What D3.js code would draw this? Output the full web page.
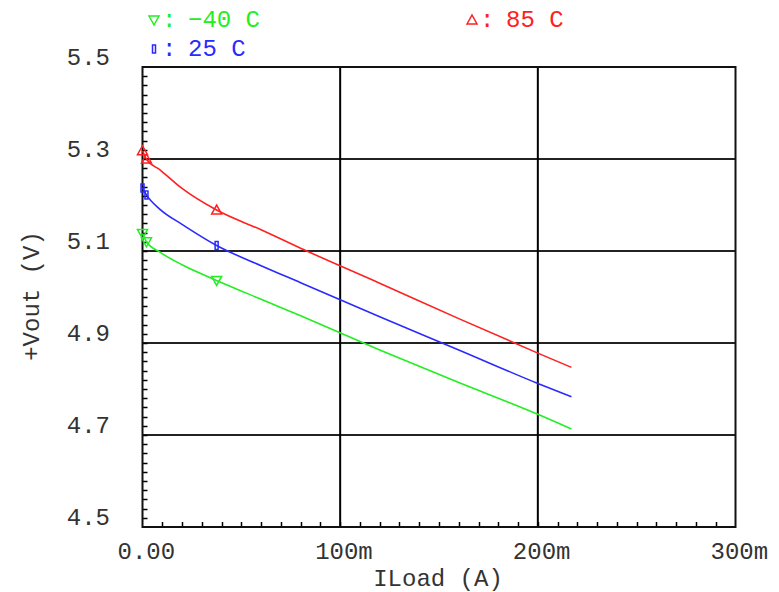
<!DOCTYPE html>
<html lang="en">
<head>
    <meta charset="UTF-8">
    <title>+Vout vs ILoad</title>
    <script src="https://d3js.org/d3.v7.min.js"></script>
    <style>
        body { margin: 0; background: #fff; }
        svg { display: block; }
        text { font-family: "Liberation Mono", "DejaVu Sans Mono", monospace; font-variant-numeric: slashed-zero; }
    </style>
</head>
<body>
    <div id="chart"></div>
    <script>
        // Load current in mA (sweep points)
        var iLoad = [0, 2, 9, 20, 37.5, 60, 80, 120, 160, 200, 217];
        // +Vout in volts for each temperature
        var vHot  = [5.318, 5.300, 5.276, 5.236, 5.189, 5.146, 5.106, 5.030, 4.953, 4.878, 4.847];
        var vRoom = [5.237, 5.222, 5.190, 5.158, 5.112, 5.068, 5.031, 4.957, 4.885, 4.812, 4.783];
        var vCold = [5.138, 5.120, 5.097, 5.070, 5.036, 4.995, 4.959, 4.885, 4.814, 4.745, 4.713];
        var markerIdx = [0, 1, 4];

        var yTicks = [4.5, 4.7, 4.9, 5.1, 5.3, 5.5];
        var yGrid = [4.7, 4.9, 5.1, 5.3];
        var xTicks = [0, 100, 200, 300];
        var xTickLabels = ["0.00", "100m", "200m", "300m"];
        var xGrid = [100, 200];

        var W = 779, H = 592;
        // plot box (pixels)
        var pL = 142.5, pR = 735.5, pT = 67, pB = 527;
        var fs = 24;

        var x = d3.scaleLinear().domain([0, 300]).range([pL, pR]);
        var y = d3.scaleLinear().domain([4.5, 5.5]).range([pB, pT]);

        var svg = d3.select("#chart").append("svg").attr("width", W).attr("height", H);

        // grid
        svg.selectAll(".hgrid").data(yGrid).enter().append("line")
            .attr("x1", pL).attr("x2", pR)
            .attr("y1", d => y(d)).attr("y2", d => y(d))
            .attr("stroke", "#222").attr("stroke-width", 2);
        svg.selectAll(".vgrid").data(xGrid).enter().append("line")
            .attr("x1", d => x(d)).attr("x2", d => x(d))
            .attr("y1", pT).attr("y2", pB)
            .attr("stroke", "#000").attr("stroke-width", 2);

        // minor ticks, pointing inward
        var yMinor = d3.range(4.52, 5.49, 0.02);
        svg.selectAll(".ytk").data(yMinor).enter().append("line")
            .attr("x1", pL).attr("x2", pL + 5)
            .attr("y1", d => Math.round(y(d)) + 0.5).attr("y2", d => Math.round(y(d)) + 0.5)
            .attr("stroke", "#000").attr("stroke-width", 1.5);
        var xMinor = d3.range(10, 300, 10);
        svg.selectAll(".xtk").data(xMinor).enter().append("line")
            .attr("x1", d => Math.round(x(d)) + 0.5).attr("x2", d => Math.round(x(d)) + 0.5)
            .attr("y1", pB).attr("y2", pB - 5)
            .attr("stroke", "#000").attr("stroke-width", 1.5);

        // frame
        svg.append("rect")
            .attr("x", pL).attr("y", pT)
            .attr("width", pR - pL).attr("height", pB - pT)
            .attr("fill", "none").attr("stroke", "#111").attr("stroke-width", 2);

        // tick labels
        svg.selectAll(".ylab").data(yTicks).enter().append("text")
            .attr("x", 110).attr("y", d => y(d) - 2)
            .attr("text-anchor", "end")
            .attr("font-size", fs).attr("fill", "#333")
            .text(d => d.toFixed(1));
        svg.selectAll(".xlab").data(xTicks).enter().append("text")
            .attr("x", d => x(d) - 25).attr("y", 559)
            .attr("font-size", fs).attr("fill", "#333")
            .text((d, i) => xTickLabels[i]);

        // axis titles
        svg.append("text")
            .attr("transform", "translate(39,296) rotate(-90)")
            .attr("text-anchor", "middle")
            .attr("font-size", fs).attr("fill", "#333")
            .text("+Vout (V)");
        svg.append("text")
            .attr("x", 438).attr("y", 586)
            .attr("text-anchor", "middle")
            .attr("font-size", fs).attr("fill", "#333")
            .text("ILoad (A)");

        var series = [
            { name: "-40 C", values: vCold, color: "#22ee22", shape: "down" },
            { name: "25 C", values: vRoom, color: "#2a2aff", shape: "rect" },
            { name: "85 C", values: vHot, color: "#ff2020", shape: "up" }
        ];

        function markerPath(shape, cx, cy) {
            if (shape === "up") return "M" + (cx - 5) + "," + (cy + 4) + "L" + cx + "," + (cy - 5) + "L" + (cx + 5) + "," + (cy + 4) + "Z";
            if (shape === "down") return "M" + (cx - 5) + "," + (cy - 4) + "L" + cx + "," + (cy + 5) + "L" + (cx + 5) + "," + (cy - 4) + "Z";
            return "M" + (cx - 1.5) + "," + (cy - 4) + "h3v8h-3Z";
        }

        var line = d3.line().curve(d3.curveMonotoneX)
            .x((d, i) => x(iLoad[i])).y(d => y(d));

        series.forEach(function(s) {
            svg.append("path")
                .attr("d", line(s.values))
                .attr("fill", "none").attr("stroke", s.color).attr("stroke-width", 1.6);
            svg.selectAll(null).data(markerIdx).enter().append("path")
                .attr("d", i => markerPath(s.shape, x(iLoad[i]), y(s.values[i])))
                .attr("fill", "none").attr("stroke", s.color).attr("stroke-width", 1.5);
        });

        // legend
        var legend = [
            { s: series[0], lx: 154, ly: 20 },
            { s: series[1], lx: 154, ly: 49 },
            { s: series[2], lx: 472, ly: 20 }
        ];
        legend.forEach(function(l) {
            svg.append("path")
                .attr("d", markerPath(l.s.shape, l.lx, l.ly))
                .attr("fill", "none").attr("stroke", l.s.color).attr("stroke-width", 1.5);
            svg.append("text")
                .attr("x", l.lx + 8).attr("y", l.ly + 7)
                .attr("font-size", fs).attr("fill", l.s.color)
                .text(":");
            svg.append("text")
                .attr("x", l.lx + 34).attr("y", l.ly + 7)
                .attr("font-size", fs).attr("fill", l.s.color)
                .text(l.s.name.replace("-", "\u2212"));
        });
    </script>
</body>
</html>
